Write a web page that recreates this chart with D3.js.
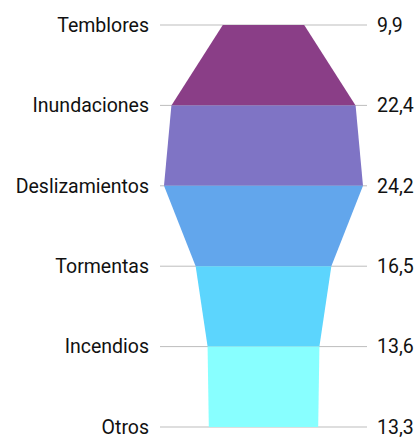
<!DOCTYPE html>
<html>
<head>
<meta charset="utf-8">
<script src="https://cdn.jsdelivr.net/npm/d3@7"></script>
<style>
  body { margin: 0; background: #fff; }
  text { font-family: Roboto, sans-serif; font-size: 19.5px; fill: #111; }
</style>
</head>
<body>
<div id="chart"></div>
<script>
'use strict';

// Data
const categories = ['Temblores', 'Inundaciones', 'Deslizamientos', 'Tormentas', 'Incendios', 'Otros'];
const values = [9.9, 22.4, 24.2, 16.5, 13.6, 13.3];
const colors = ['#8a3e87', '#7f74c5', '#62a6ec', '#5cd5fd', '#88ffff'];

const width = 416, height = 437;
const cx = 263.5;
const gridLeft = 160, gridRight = 367;

const svg = d3.select('#chart')
    .append('svg')
    .attr('width', width)
    .attr('height', height);

// Scales
const y = d3.scalePoint()
    .domain(categories)
    .range([25, 427]);

const w = d3.scaleLinear()
    .domain([0, d3.max(values)])
    .range([0, 199]);

// Grid lines
svg.append('g').selectAll('line')
    .data(categories)
    .join('line')
    .attr('x1', gridLeft)
    .attr('x2', gridRight)
    .attr('y1', d => y(d))
    .attr('y2', d => y(d))
    .attr('stroke', '#bdbdbd')
    .attr('stroke-width', 1);

// Funnel segments, each from one category to the next
const segs = d3.pairs(d3.zip(categories, values));
svg.append('g').selectAll('path')
    .data(segs)
    .join('path')
    .attr('fill', (d, i) => colors[i])
    .attr('d', ([a, b]) => {
        const y0 = y(a[0]), y1 = y(b[0]);
        const h0 = w(a[1]) / 2, h1 = w(b[1]) / 2;
        return `M${cx - h0},${y0}L${cx + h0},${y0}L${cx + h1},${y1}L${cx - h1},${y1}Z`;
    });

// Category labels
svg.append('g').selectAll('text')
    .data(categories)
    .join('text')
    .attr('x', 149)
    .attr('y', d => y(d))
    .attr('dy', '0.35em')
    .attr('text-anchor', 'end')
    .text(d => d);

// Value labels
const fmt = v => v.toFixed(1).replace('.', ',');
svg.append('g').selectAll('text')
    .data(values)
    .join('text')
    .attr('x', 377)
    .attr('y', (d, i) => y(categories[i]))
    .attr('dy', '0.35em')
    .text(d => fmt(d));
</script>
</body>
</html>
